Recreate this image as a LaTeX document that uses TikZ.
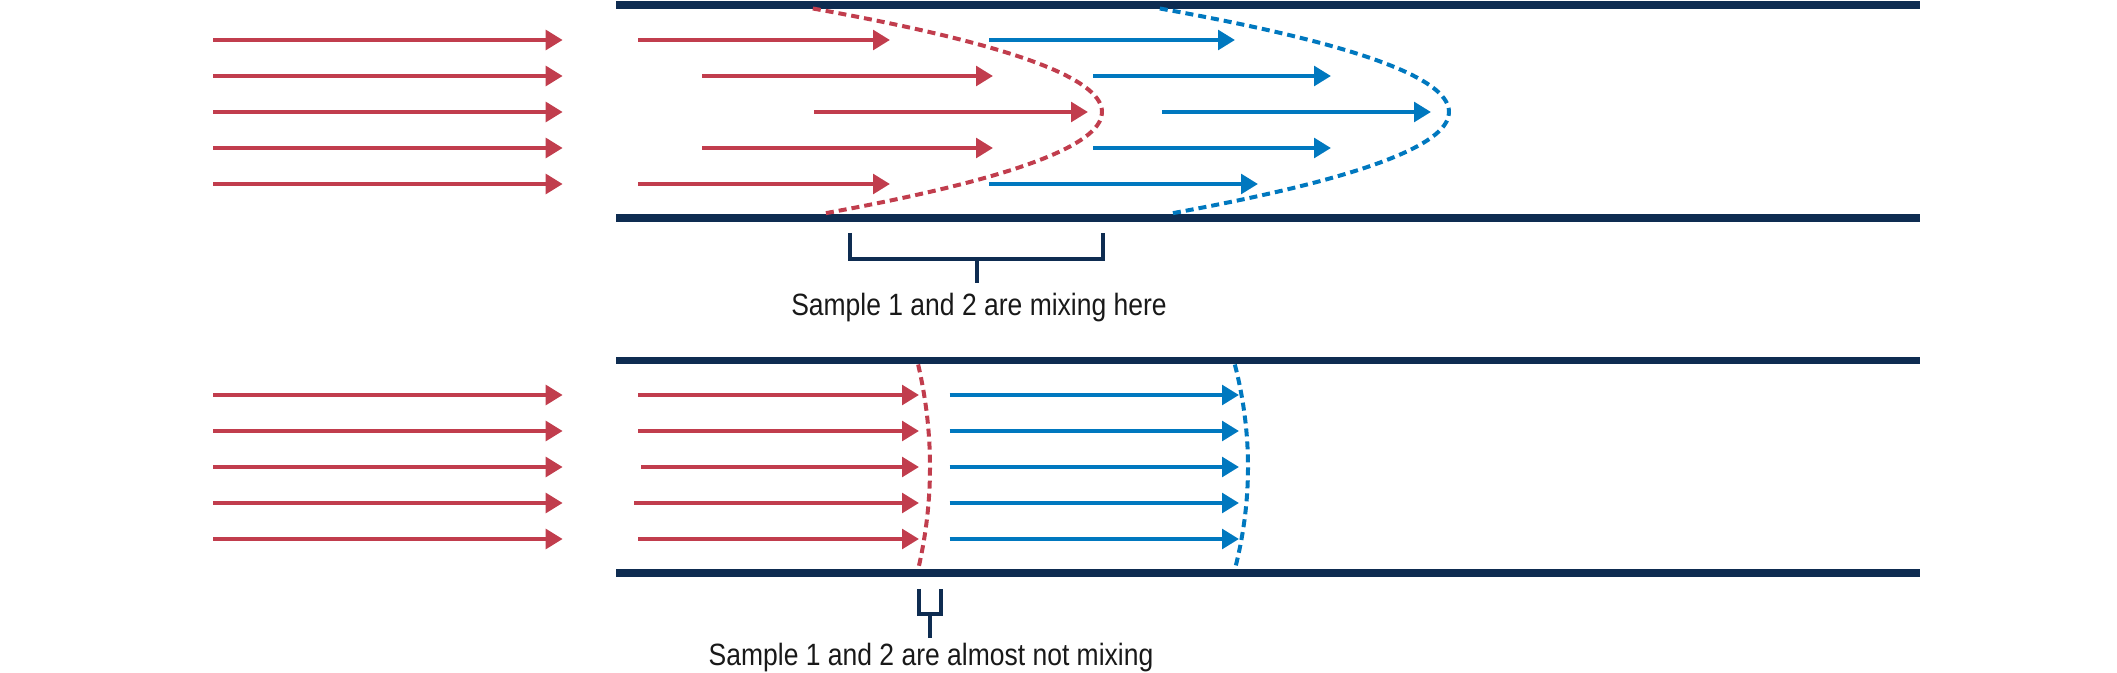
\documentclass[tikz,border=0pt]{standalone}
\usepackage{fontspec}
\newfontfamily\labelfont[FakeStretch=0.86]{Liberation Sans}
\usetikzlibrary{arrows.meta}

\definecolor{sampleone}{HTML}{C13D4D}
\definecolor{sampletwo}{HTML}{0078BF}
\definecolor{tubewall}{HTML}{0E2C51}

\begin{document}
\begin{tikzpicture}[
        x=0.5pt, y=-0.5pt,
        every node/.style={font=\labelfont\fontsize{15.4pt}{18pt}\selectfont, text=black!90, inner sep=0pt},
        wall/.style={draw=tubewall, line width=3.9pt},
        flow/.style={-{Triangle[length=8.5pt, width=9.75pt]}, line width=2.1pt},
        redflow/.style={flow, color=sampleone},
        blueflow/.style={flow, color=sampletwo},
        front/.style={line width=2pt, dash pattern=on 4pt off 2.5pt},
        bracket/.style={draw=tubewall, line width=1.9pt}
    ]
    \useasboundingbox (0,0) rectangle (2117,673);

    % Walls
    \draw[wall] (616,4.7) -- (1920,4.7);
    \draw[wall] (616,217.7) -- (1920,217.7);
    \draw[wall] (616,360.5) -- (1920,360.5);
    \draw[wall] (616,573) -- (1920,573);

    % Top tube: arrows
    \foreach \y in {40,76,112,148,184}
        \draw[redflow] (213,\y) -- (562.7,\y);
    \foreach \xa/\xb/\y in {638/890/40, 702/993/76, 814/1088/112, 702/993/148, 638/890/184}
        \draw[redflow] (\xa,\y) -- (\xb,\y);
    \foreach \xa/\xb/\y in {989/1235/40, 1093/1331/76, 1162/1431/112, 1093/1331/148, 989/1258/184}
        \draw[blueflow] (\xa,\y) -- (\xb,\y);

    % Top tube: fronts
    \draw[front, sampleone] plot[domain=8.5:213.5, samples=50, smooth] ({1102-0.027*(\x-112)^2}, \x);
    \draw[front, sampletwo] plot[domain=8.5:213.5, samples=50, smooth] ({1449-0.027*(\x-112)^2}, \x);

    % Bottom tube: arrows
    \foreach \y in {395,431,467,503,539}
        \draw[redflow] (213,\y) -- (562.7,\y);
    \foreach \xa/\y in {638/395, 638/431, 641/467, 634/503, 638/539}
        \draw[redflow] (\xa,\y) -- (919,\y);
    \foreach \y in {395,431,467,503,539}
        \draw[blueflow] (949.5,\y) -- (1239,\y);

    % Bottom tube: fronts
    \draw[front, sampleone] plot[domain=364.5:569, samples=40, smooth] ({930-0.00113*(\x-467)^2}, \x);
    \draw[front, sampletwo] plot[domain=364.5:569, samples=40, smooth] ({1248-0.00125*(\x-467)^2}, \x);

    % Brackets
    \draw[bracket] (850,233) -- (850,259.3) -- (1103,259.3) -- (1103,233);
    \draw[bracket] (977,259.3) -- (977,283);
    \draw[bracket] (919.3,589) -- (919.3,614) -- (941,614) -- (941,589);
    \draw[bracket] (930,614) -- (930,638);

    % Labels
    \node[anchor=base] (mixlabel) at (979,316) {Sample 1 and 2 are mixing here};
    \node[anchor=base] (almostlabel) at (931,666) {Sample 1 and 2 are almost not mixing};

\end{tikzpicture}
\end{document}
